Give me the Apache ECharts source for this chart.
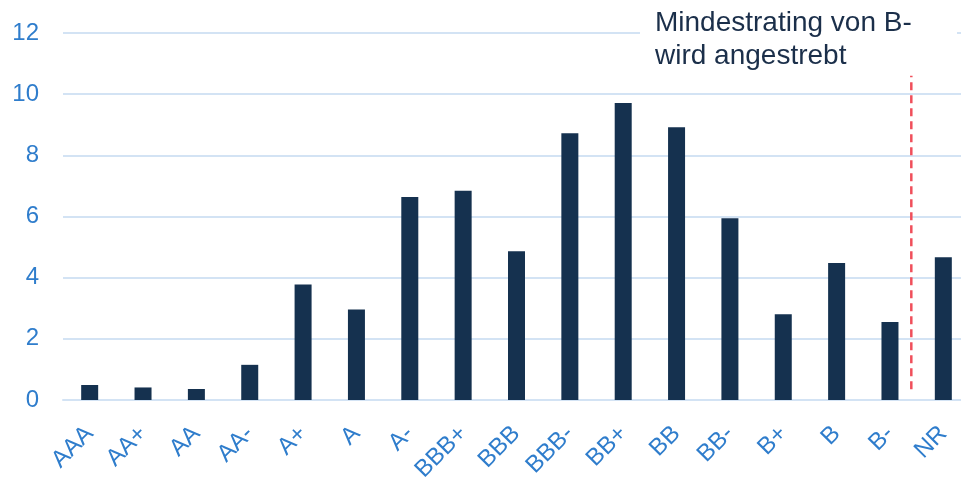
<!DOCTYPE html>
<html>
<head>
<meta charset="utf-8">
<script src="https://cdn.jsdelivr.net/npm/echarts@6/dist/echarts.min.js"></script>
<style>
  html, body { margin: 0; padding: 0; background: #fff; }
  #chart { width: 961px; height: 479px; }
</style>
</head>
<body>
<div id="chart"></div>
<script>
const ratings = ["AAA", "AA+", "AA", "AA-", "A+", "A", "A-", "BBB+", "BBB", "BBB-", "BB+", "BB", "BB-", "B+", "B", "B-", "NR"];
const shares = [0.49, 0.41, 0.36, 1.15, 3.78, 2.96, 6.64, 6.84, 4.86, 8.72, 9.71, 8.92, 5.94, 2.8, 4.48, 2.55, 4.67];
// cut-off between B- and NR (in category index units), from bottom to top
const cutoffLine = [[15.4, 0.35], [15.4, 10.6]];
const yTicks = { min: 0, max: 12, step: 2 };
const noteText = "Mindestrating von B-\nwird angestrebt";

const blue = "#2f7dcc";
const navy = "#15314f";
const gridColor = "#d3e3f4";

const chart = echarts.init(document.getElementById("chart"));

chart.setOption({
  animation: false,
  grid: {
    left: 63,
    right: -9,
    top: 33,
    bottom: 79,
    containLabel: false,
    outerBoundsMode: "none",
  },
  xAxis: [
    {
      type: "category",
      data: ratings,
      axisLine: { lineStyle: { color: gridColor, width: 2 } },
      axisTick: { show: false },
      axisLabel: {
        color: blue,
        fontFamily: "Liberation Sans, Arial, sans-serif",
        fontSize: 24,
        rotate: 45,
        margin: 30,
        interval: 0,
      },
    },
    {
      type: "value",
      min: -0.5,
      max: 16.5,
      show: false,
    },
  ],
  yAxis: {
    type: "value",
    min: yTicks.min,
    max: yTicks.max,
    interval: yTicks.step,
    axisLine: { show: false },
    axisTick: { show: false },
    splitLine: { lineStyle: { color: gridColor, width: 2 } },
    axisLabel: {
      color: blue,
      fontFamily: "Liberation Sans, Arial, sans-serif",
      fontSize: 24,
      margin: 24,
    },
  },
  series: [
    {
      type: "bar",
      data: shares,
      barWidth: 17,
      itemStyle: { color: navy },
    },
    {
      type: "line",
      xAxisIndex: 1,
      data: cutoffLine,
      symbol: "none",
      lineStyle: { color: "#f04f5b", width: 2.5, type: [8, 5] },
    },
  ],
  graphic: [
    {
      type: "rect",
      left: 640,
      top: 8,
      shape: { width: 317, height: 62 },
      style: { fill: "#fff" },
      z: 10,
    },
    {
      type: "text",
      left: 655,
      top: 7,
      z: 11,
      style: {
        text: noteText,
        fill: "#1b2f4a",
        font: "28px 'Liberation Sans', Arial, sans-serif",
        lineHeight: 33,
      },
    },
  ],
});
</script>
</body>
</html>
